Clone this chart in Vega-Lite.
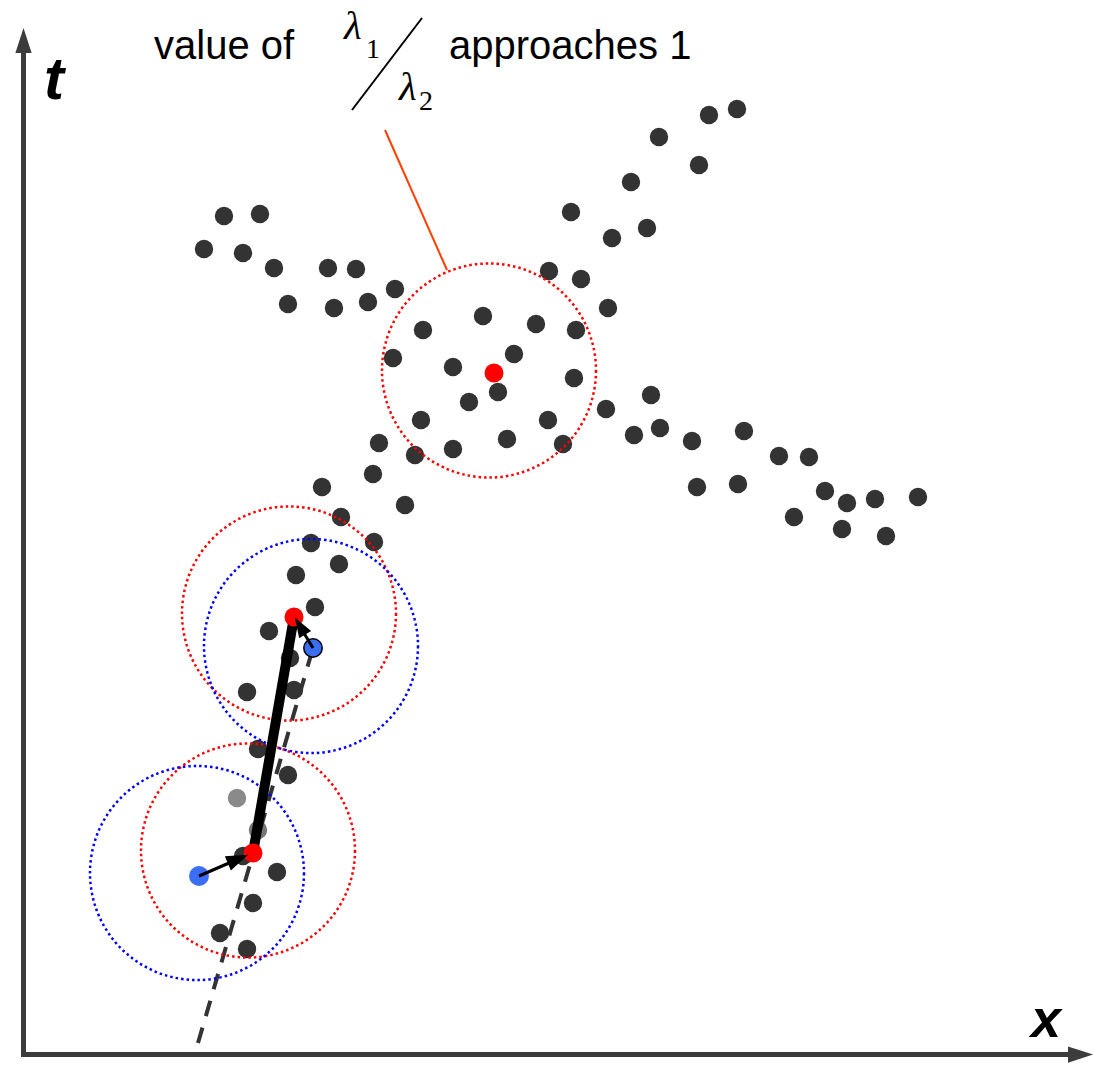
{
  "$schema": "https://vega.github.io/schema/vega-lite/v6.json",
  "width": 1093,
  "height": 1065,
  "padding": 0,
  "autosize": {"type": "none"},
  "background": "white",
  "config": {"view": {"stroke": null}},
  "datasets": {
    "dots": [
      {"x":224,"t":849},{"x":260,"t":851},{"x":204,"t":816},{"x":243,"t":812},{"x":274,"t":797},{"x":328,"t":797},{"x":356,"t":796},{"x":395,"t":776},{"x":288,"t":761},{"x":334,"t":757},{"x":368,"t":763},
      {"x":737,"t":956},{"x":709,"t":950},{"x":659,"t":928},{"x":699,"t":900},{"x":631,"t":883},{"x":571,"t":853},{"x":647,"t":837},{"x":612,"t":827},{"x":549,"t":794},{"x":581,"t":786},{"x":608,"t":757},
      {"x":483,"t":749},{"x":536,"t":741},{"x":423,"t":735},{"x":576,"t":735},{"x":393,"t":707},{"x":514,"t":711},{"x":453,"t":698},{"x":574,"t":687},{"x":498,"t":673},{"x":469,"t":663},{"x":421,"t":645},{"x":548,"t":645},{"x":507,"t":626},{"x":379,"t":622},{"x":453,"t":616},{"x":563,"t":621},{"x":415,"t":610},{"x":373,"t":591},
      {"x":651,"t":670},{"x":606,"t":656},{"x":634,"t":630},{"x":660,"t":637},{"x":692,"t":624},{"x":744,"t":634},{"x":779,"t":609},{"x":809,"t":608},{"x":697,"t":578},{"x":738,"t":581},{"x":825,"t":574},{"x":847,"t":562},{"x":875,"t":566},{"x":918,"t":568},{"x":794,"t":548},{"x":842,"t":536},{"x":886,"t":529},
      {"x":322,"t":578},{"x":405,"t":560},{"x":341,"t":548},{"x":374,"t":523},{"x":311,"t":522},{"x":339,"t":501},{"x":296,"t":490},{"x":315,"t":458},{"x":269,"t":434},{"x":290,"t":407},{"x":294,"t":375},{"x":247,"t":373},{"x":258,"t":316},{"x":288,"t":290},{"x":243,"t":209},{"x":277,"t":193},{"x":253,"t":162},{"x":220,"t":132},{"x":247,"t":116}
    ],
    "graydots": [{"x":237,"t":267,"c":"a"},{"x":258,"t":235,"c":"b"}],
    "redcircles": [{"x":489,"t":694.5},{"x":289,"t":451.5},{"x":248,"t":214.5}],
    "bluecircles": [{"x":311,"t":419},{"x":197,"t":192}],
    "redpts": [{"x":494,"t":692},{"x":294,"t":448},{"x":253,"t":212}],
    "bluepts": [{"x":313,"t":417,"o":"outlined"},{"x":199,"t":189,"o":"plain"}],
    "axislines": [{"x":23.5,"t":8,"x2":23.5,"t2":1020},{"x":21,"t":10.5,"x2":1078,"t2":10.5}],
    "axisheads": [{"x":23.5,"t":1024.5,"dir":"up"},{"x":1080.5,"t":10.5,"dir":"right"}],
    "dashed": [{"x":198,"t":22,"x2":313,"t2":417}],
    "thick": [{"x":253,"t":212,"x2":294,"t2":448}],
    "shafts": [{"x":313,"t":417,"x2":302,"t2":435},{"x":199,"t":189,"x2":236,"t2":205}],
    "leader": [{"x":385,"t":935,"x2":447,"t2":795}],
    "slash": [{"x":352,"t":955,"x2":422,"t2":1047}],
    "caption": [{"x":154,"t":1006,"label":"value of"},{"x":449,"t":1006,"label":"approaches 1"}],
    "lambda": [{"x":344,"t":1026,"label":"λ"},{"x":399,"t":965,"label":"λ"}],
    "subs": [{"x":366,"t":1007,"label":"1"},{"x":419,"t":955,"label":"2"}],
    "axislabels": [{"x":44,"t":966,"label":"t"},{"x":1031,"t":28,"label":"x"}]
  },
  "encoding": {
    "x": {"field": "x", "type": "quantitative", "scale": {"domain": [0, 1093], "nice": false, "zero": false}, "axis": null},
    "y": {"field": "t", "type": "quantitative", "scale": {"domain": [0, 1065], "nice": false, "zero": false}, "axis": null}
  },
  "layer": [
    {"data": {"name": "axislines"}, "mark": {"type": "rule", "color": "#3c3c3c", "strokeWidth": 5},
     "encoding": {"x2": {"field": "x2"}, "y2": {"field": "t2"}}},
    {"data": {"name": "axisheads"}, "transform": [{"filter": "datum.dir == 'up'"}],
     "mark": {"type": "point", "shape": "M0,-1L0.65,1L-0.65,1Z", "size": 625, "filled": true, "opacity": 1, "color": "#3c3c3c", "angle": 0}},
    {"data": {"name": "axisheads"}, "transform": [{"filter": "datum.dir == 'right'"}],
     "mark": {"type": "point", "shape": "M0,-1L0.65,1L-0.65,1Z", "size": 625, "filled": true, "opacity": 1, "color": "#3c3c3c", "angle": 90}},
    {"data": {"name": "dots"}, "mark": {"type": "point", "shape": "circle", "size": 340, "filled": true, "opacity": 1, "color": "#333333"}},
    {"data": {"name": "graydots"}, "mark": {"type": "point", "shape": "circle", "size": 340, "filled": true, "opacity": 1},
     "encoding": {"color": {"field": "c", "type": "nominal", "scale": {"domain": ["a", "b"], "range": ["#8a8a8a", "#777777"]}, "legend": null}}},
    {"data": {"name": "dashed"}, "mark": {"type": "rule", "color": "#333333", "strokeWidth": 4, "strokeDash": [16, 12]},
     "encoding": {"x2": {"field": "x2"}, "y2": {"field": "t2"}}},
    {"data": {"name": "redcircles"}, "mark": {"type": "point", "shape": "circle", "size": 45796, "filled": false, "opacity": 1, "color": "#ff0000", "strokeWidth": 2.5, "strokeDash": [2.5, 3]}},
    {"data": {"name": "bluecircles"}, "mark": {"type": "point", "shape": "circle", "size": 45796, "filled": false, "opacity": 1, "color": "#0000ff", "strokeWidth": 2.5, "strokeDash": [2.5, 3]}},
    {"data": {"name": "thick"}, "mark": {"type": "rule", "color": "#000000", "strokeWidth": 10},
     "encoding": {"x2": {"field": "x2"}, "y2": {"field": "t2"}}},
    {"data": {"name": "redpts"}, "mark": {"type": "point", "shape": "circle", "size": 360, "filled": true, "opacity": 1, "color": "#ff0000"}},
    {"data": {"name": "bluepts"}, "mark": {"type": "point", "shape": "circle", "size": 340, "filled": true, "opacity": 1, "fill": "#3b6ef5"},
     "encoding": {"stroke": {"field": "o", "type": "nominal", "scale": {"domain": ["outlined", "plain"], "range": ["#000000", "#3b6ef5"]}, "legend": null}, "strokeWidth": {"value": 1.5}}},
    {"data": {"name": "shafts"}, "mark": {"type": "rule", "color": "#000000", "strokeWidth": 3},
     "encoding": {"x2": {"field": "x2"}, "y2": {"field": "t2"}}},
    {"data": {"name": "redpts"}, "transform": [{"filter": "datum.t == 448"}],
     "mark": {"type": "point", "shape": "M0,-1L0.7,1L-0.7,1Z", "size": 400, "filled": true, "opacity": 1, "color": "#000000", "angle": 329, "xOffset": 6, "yOffset": 9}},
    {"data": {"name": "redpts"}, "transform": [{"filter": "datum.t == 212"}],
     "mark": {"type": "point", "shape": "M0,-1L0.7,1L-0.7,1Z", "size": 484, "filled": true, "opacity": 1, "color": "#000000", "angle": 67, "xOffset": -15, "yOffset": 6}},
    {"data": {"name": "leader"}, "mark": {"type": "rule", "color": "#ff4000", "strokeWidth": 2},
     "encoding": {"x2": {"field": "x2"}, "y2": {"field": "t2"}}},
    {"data": {"name": "slash"}, "mark": {"type": "rule", "color": "#000000", "strokeWidth": 2},
     "encoding": {"x2": {"field": "x2"}, "y2": {"field": "t2"}}},
    {"data": {"name": "caption"}, "mark": {"type": "text", "align": "left", "baseline": "alphabetic", "font": "Liberation Sans Narrow, Arial Narrow, Liberation Sans", "fontSize": 40, "color": "#000000"},
     "encoding": {"text": {"field": "label"}}},
    {"data": {"name": "lambda"}, "mark": {"type": "text", "align": "left", "baseline": "alphabetic", "font": "Liberation Serif", "fontSize": 41, "fontStyle": "italic", "color": "#000000"},
     "encoding": {"text": {"field": "label"}}},
    {"data": {"name": "subs"}, "mark": {"type": "text", "align": "left", "baseline": "alphabetic", "font": "Liberation Serif", "fontSize": 28, "color": "#000000"},
     "encoding": {"text": {"field": "label"}}},
    {"data": {"name": "axislabels"}, "transform": [{"filter": "datum.label == 't'"}],
     "mark": {"type": "text", "align": "left", "baseline": "alphabetic", "font": "Liberation Sans", "fontSize": 60, "fontStyle": "italic", "fontWeight": "bold", "color": "#000000"},
     "encoding": {"text": {"field": "label"}}},
    {"data": {"name": "axislabels"}, "transform": [{"filter": "datum.label == 'x'"}],
     "mark": {"type": "text", "align": "left", "baseline": "alphabetic", "font": "Liberation Sans", "fontSize": 54, "fontStyle": "italic", "fontWeight": "bold", "color": "#000000"},
     "encoding": {"text": {"field": "label"}}}
  ]
}
